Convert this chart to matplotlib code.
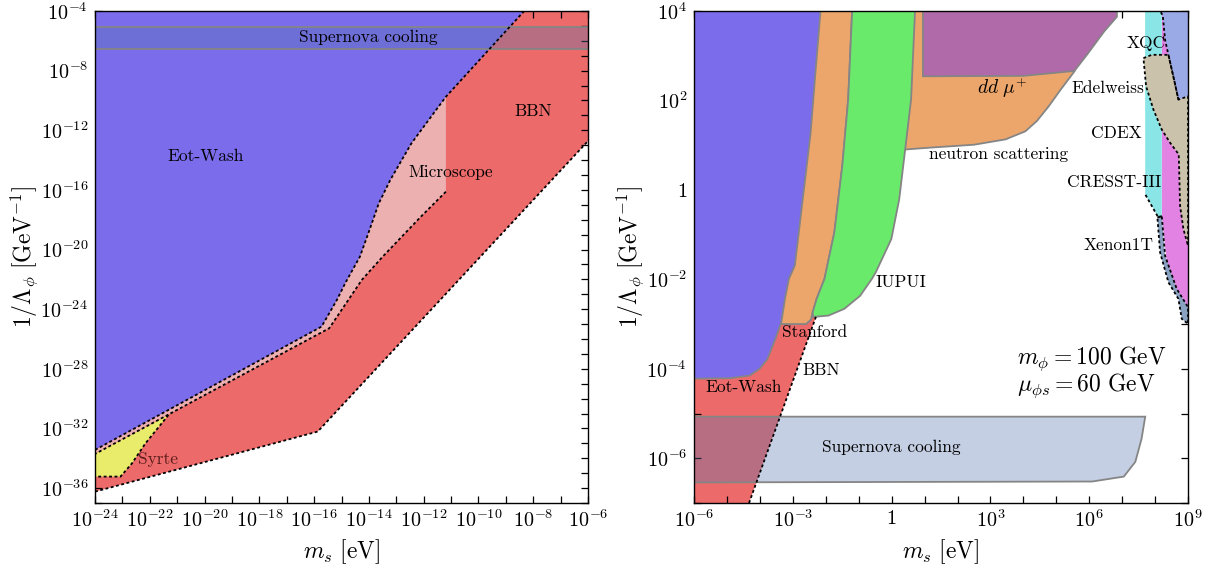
import numpy as np
import matplotlib
matplotlib.use('Agg')
import matplotlib.pyplot as plt
from matplotlib.ticker import FixedLocator, FuncFormatter, NullFormatter

plt.rcParams.update({
    'mathtext.fontset': 'cm', 'font.family': 'serif', 'font.serif': ['cmr10', 'DejaVu Serif'],
    'axes.unicode_minus': False, 'axes.formatter.use_mathtext': True,
})

# --- PALETTE ---
BLUE, RED, PINK, YEL = '#7b6cec', '#ec6a6a', '#ecb0b0', '#e8ec6a'
ORNG, GRN, PURP = '#eca66c', '#6aea6a', '#b06aaa'
CYAN, XQCB, TAN, MAG, XEN = '#8ae6e6', '#9aaae6', '#cac2aa', '#e282e2', '#8aa2c2'
SN_C, SN_A, EDGE = '#5676af', 0.35, '#858585'
DOT = (0, (1.6, 1.4))

# --- DATA : left panel (log10 m_s [eV], log10 1/Lambda [GeV^-1]) ---
ew_x = [-8.33, -9.59, -11.19, -11.82, -12.45, -12.80, -13.22, -13.64, -13.98, -14.33, -14.85, -15.17, -15.52, -15.73, -24.0]
ew_y = [-4.0, -6.53, -9.75, -11.31, -12.88, -13.99, -15.33, -16.9, -18.69, -20.48, -22.2, -23.38, -24.5, -25.17, -33.44]
mic_x = [-11.19, -12.10, -13.50, -14.26, -15.45, -24.0]
mic_y = [-16.12, -17.79, -20.48, -22.04, -25.28, -33.71]
syr_x = [-21.32, -22.16, -22.65, -23.07, -24.0]
syr_y = [-31.1, -33.0, -34.34, -35.23, -35.23]
bbn_x = [-24.0, -15.87, -6.0]
bbn_y = [-36.24, -32.21, -12.72]
sn_band = [-6.53, -5.05]

# --- DATA : right panel ---
r_ew_x = [-2.16, -2.30, -2.46, -2.70, -2.94, -3.12, -3.24, -3.35, -3.53, -3.77, -4.01, -4.31, -4.91, -6.0]
r_ew_y = [4.0, 2.76, 1.28, -0.21, -1.69, -1.99, -2.44, -2.96, -3.33, -3.78, -4.0, -4.15, -4.21, -4.22]
gl_x = [-1.2, -1.32, -1.5, -1.74, -2.04, -2.28, -2.40]          # green left / Stanford right
gl_y = [4.0, 2.02, 0.53, -0.95, -1.99, -2.44, -2.74]
st_x = [-2.45, -2.6, -3.35, -3.6, -3.0, -2.6]
st_y = [-2.9, -3.0, -3.0, -2.5, 2.0, 4.0]
gr_x = [-2.38, -1.92, -1.44, -0.96, -0.6, -0.48, -0.01, 0.23, 0.41, 0.59, 0.71]
gr_y = [-2.84, -2.81, -2.66, -2.37, -1.99, -1.84, -1.1, -0.21, 0.9, 2.02, 4.0]
ns_x = [0.5, 6.0, 5.55, 5.13, 4.77, 4.41, 4.06, 3.46, 2.50, 1.07, 0.35, 0.3]
ns_y = [4.0, 4.0, 2.65, 2.24, 1.87, 1.54, 1.31, 1.13, 1.01, 0.94, 0.90, 2.0]
dd_x = [0.95, 6.84, 6.84, 6.45, 5.97, 5.55, 4.0, 0.95]
dd_y = [4.0, 4.0, 3.87, 3.54, 3.06, 2.66, 2.55, 2.54]
r_bbn_x = [-4.33, -2.3]
r_bbn_y = [-7.0, -2.84]
r_sn_x = [-6.0, 7.70, 7.59, 7.4, 7.05, 6.09, -6.0]
r_sn_y = [-5.07, -5.07, -5.56, -6.08, -6.41, -6.52, -6.54]
cr_x = [7.696, 8.202, 8.202, 8.10, 7.70]
cr_y = [4.0, 4.0, -0.58, -0.62, -0.10]
mg_x = [8.202, 8.35, 9.0, 9.0, 8.759, 8.354, 8.202]
mg_y = [4.0, 4.0, 1.5, -2.66, -2.474, -1.62, -0.58]
xq_x = [8.151, 9.0, 9.0, 8.708, 8.576, 8.404, 8.303, 8.232]
xq_y = [4.0, 4.0, 2.092, 2.018, 2.463, 3.02, 3.354, 3.9]
ed_x = [7.645, 7.898, 8.404, 8.576, 8.708, 9.0, 9.0, 8.86, 8.759, 8.718, 8.455, 8.202, 7.949, 7.727, 7.645]
ed_y = [2.946, 3.02, 3.02, 2.463, 2.018, 2.092, -1.249, -0.877, -0.357, 0.794, 1.054, 1.35, 1.795, 2.315, 2.946]
xe_x = [8.07, 8.202, 8.303, 8.657, 9.0, 9.0, 8.809, 8.708, 8.404, 8.151, 8.07]
xe_y = [-0.617, -0.58, -1.472, -2.214, -2.623, -2.995, -2.883, -2.437, -2.066, -1.397, -0.617]


def L(v): return 10.0 ** np.asarray(v, dtype=float)

def patch(ax, xs, ys, col, edge='none', z=1):
    ax.fill(L(xs), L(ys), facecolor=col, edgecolor=edge, lw=1.3, zorder=z)

def dots(ax, xs, ys, z=6):
    ax.plot(L(xs), L(ys), color='k', ls=DOT, lw=1.3, zorder=z)

def lbl(ax, x, y, s, size=12.5, col='k', ha='center'):
    ax.text(10.0 ** x, 10.0 ** y, s, ha=ha, va='center', fontsize=size, color=col, zorder=8)

def fmt(v, pos):
    e = int(round(np.log10(v)))
    return r'$1$' if e == 0 else r'$10^{%d}$' % e

def axis_setup(ax, xr, yr, xlab_step, ylab_step, ylab_x):
    ax.set_xscale('log'); ax.set_yscale('log')
    ax.set_xlim(L(xr[0]), L(xr[1])); ax.set_ylim(L(yr[0]), L(yr[1]))
    xs = np.arange(xr[0], xr[1] + 1); ys = np.arange(yr[0], yr[1] + 1)
    ax.xaxis.set_major_locator(FixedLocator(L(xs[::xlab_step])))
    ax.xaxis.set_minor_locator(FixedLocator(L(xs)))
    ax.yaxis.set_major_locator(FixedLocator(L(ys[::-1][::ylab_step])))
    ax.yaxis.set_minor_locator(FixedLocator(L(ys)))
    ax.xaxis.set_major_formatter(FuncFormatter(fmt)); ax.yaxis.set_major_formatter(FuncFormatter(fmt))
    ax.xaxis.set_minor_formatter(NullFormatter()); ax.yaxis.set_minor_formatter(NullFormatter())
    ax.tick_params(which='both', direction='in', top=True, right=True, length=5, width=0.9,
                   labelsize=14.5, pad=5)
    for s in ax.spines.values():
        s.set_linewidth(1.0); s.set_zorder(10)
    ax.set_xlabel(r'$m_s\ [\mathrm{eV}]$', fontsize=17, labelpad=4)
    ax.set_ylabel(r'$1/\Lambda_\phi\ [\mathrm{GeV}^{-1}]$', fontsize=17)
    ax.yaxis.set_label_coords(ylab_x, 0.5)


fig = plt.figure(figsize=(12.17, 5.73), dpi=100)
ax1 = fig.add_axes([0.0781, 0.1222, 0.4051, 0.8586])
ax2 = fig.add_axes([0.5703, 0.1222, 0.4059, 0.8586])

# --- LEFT PANEL ---
patch(ax1, bbn_x + [-6.0, -24.0], bbn_y + [-4.0, -4.0], RED, z=1)
patch(ax1, ew_x[2:] + [-24.0] + mic_x[::-1], ew_y[2:] + [-33.71] + mic_y[::-1], PINK, z=2)
patch(ax1, [-24.0] + syr_x, [-33.71] + syr_y, YEL, z=3)
patch(ax1, [-24.0] + ew_x, [-4.0] + ew_y, BLUE, z=4)
ax1.fill_between(L([-24, -6]), L(sn_band[0]), L(sn_band[1]), color=SN_C, alpha=SN_A, lw=0, zorder=5)
for yv in sn_band:
    ax1.axhline(L(yv), color=EDGE, lw=1.3, zorder=5)
dots(ax1, ew_x, ew_y); dots(ax1, mic_x, mic_y); dots(ax1, syr_x, syr_y); dots(ax1, bbn_x, bbn_y)
lbl(ax1, -14.03, -5.74, 'Supernova cooling')
lbl(ax1, -19.98, -13.72, 'Eot-Wash')
lbl(ax1, -11.01, -14.8, 'Microscope')
lbl(ax1, -8.02, -10.71, 'BBN')
lbl(ax1, -21.7, -34.05, 'Syrte', col='#5c1c1c')
axis_setup(ax1, (-24, -6), (-37, -4), 2, 4, -0.112)

# --- RIGHT PANEL ---
patch(ax2, r_bbn_x + [-3.2, -6.0, -6.0], r_bbn_y + [-2.6, -2.6, -7.0], RED, z=1)
patch(ax2, ns_x, ns_y, ORNG, edge=EDGE, z=2)
patch(ax2, gl_x + st_x, gl_y + st_y, ORNG, edge=EDGE, z=3)
patch(ax2, [-6.0] + r_ew_x, [4.0] + r_ew_y, BLUE, edge=EDGE, z=4)
patch(ax2, gl_x + gr_x, gl_y + gr_y, GRN, edge=EDGE, z=4)
patch(ax2, dd_x, dd_y, PURP, edge=EDGE, z=4)
patch(ax2, mg_x, mg_y, MAG, z=3)
patch(ax2, cr_x, cr_y, CYAN, z=3)
patch(ax2, xq_x, xq_y, XQCB, z=4)
patch(ax2, ed_x, ed_y, TAN, z=4)
patch(ax2, xe_x, xe_y, XEN, z=4)
ax2.fill(L(r_sn_x), L(r_sn_y), facecolor=SN_C, alpha=SN_A, lw=0, zorder=5)
ax2.fill(L(r_sn_x), L(r_sn_y), facecolor='none', edgecolor=EDGE, lw=1.3, zorder=5)
dots(ax2, r_bbn_x, r_bbn_y)
dots(ax2, xq_x[3:] + [8.151], xq_y[3:] + [4.0])
dots(ax2, ed_x, ed_y); dots(ax2, xe_x, xe_y); dots(ax2, cr_x[2:], cr_y[2:])
lbl(ax2, 0.0, -5.76, 'Supernova cooling')
lbl(ax2, -4.49, -4.41, 'Eot-Wash')
lbl(ax2, -2.13, -4.03, 'BBN')
lbl(ax2, -2.34, -3.18, 'Stanford')
lbl(ax2, 0.29, -2.07, 'IUPUI')
lbl(ax2, 3.24, 0.79, 'neutron scattering')
lbl(ax2, 3.35, 2.28, r'$dd\ \mu^{+}$', size=14)
lbl(ax2, 6.58, 2.26, 'Edelweiss')
lbl(ax2, 7.72, 3.28, 'XQC')
lbl(ax2, 6.81, 1.26, 'CDEX')
lbl(ax2, 6.76, 0.18, 'CRESST-III')
lbl(ax2, 6.88, -1.25, 'Xenon1T')
lbl(ax2, 3.82, -3.77, r'$m_\phi = 100\ \mathrm{GeV}$', size=17, ha='left')
lbl(ax2, 3.82, -4.38, r'$\mu_{\phi s} = 60\ \mathrm{GeV}$', size=17, ha='left')
axis_setup(ax2, (-6, 9), (-7, 4), 3, 2, -0.098)

plt.savefig('out.png', dpi=100)
